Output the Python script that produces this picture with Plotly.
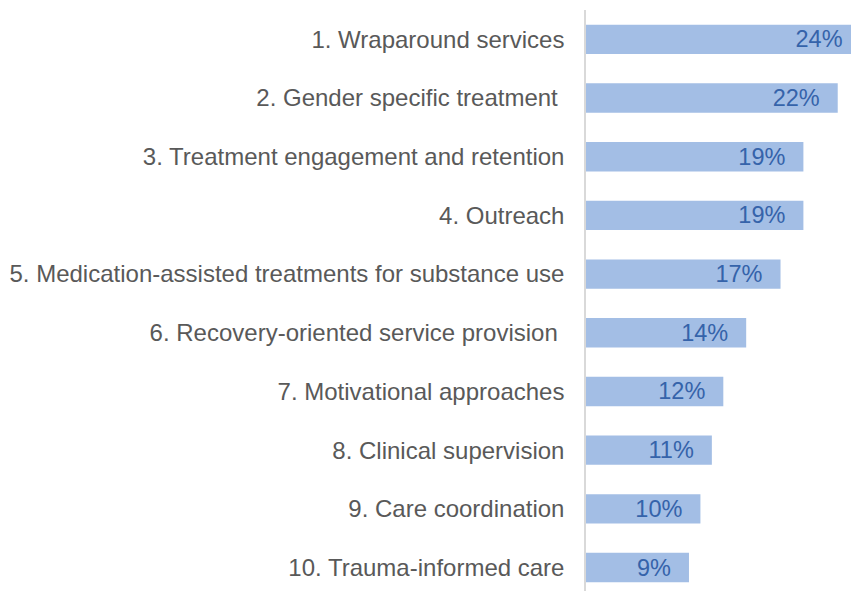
import plotly.graph_objs as go

# Chart data
categories = [
    '1. Wraparound services',
    '2. Gender specific treatment\u00a0',
    '3. Treatment engagement and retention',
    '4. Outreach',
    '5. Medication-assisted treatments for substance use',
    '6. Recovery-oriented service provision\u00a0',
    '7. Motivational approaches',
    '8. Clinical supervision',
    '9. Care coordination',
    '10. Trauma-informed care',
]
values = [24, 22, 19, 19, 17, 14, 12, 11, 10, 9]
value_labels = ['{0}%'.format(v) + '\u00a0\u00a0\u200a' for v in values]

# Colors
bar_color = '#A3BEE5'
value_color = '#3563AA'
label_color = '#595959'
axis_color = '#D9D9D9'

bars = go.Bar(
    x=values,
    y=categories,
    orientation='h',
    marker=dict(color=bar_color, line=dict(width=0)),
    text=value_labels,
    textposition='inside',
    insidetextanchor='end',
    constraintext='none',
    textfont=dict(family='Liberation Sans, Arial, sans-serif', size=23.5, color=value_color),
    hoverinfo='skip',
)

layout = go.Layout(
    width=851,
    height=591,
    margin=dict(l=586, r=0, t=10, b=0),
    paper_bgcolor='white',
    plot_bgcolor='white',
    bargap=0.5,
    showlegend=False,
    font=dict(family='Liberation Sans, Arial, sans-serif', size=24, color=label_color),
    xaxis=dict(range=[0, 23.16], showgrid=False, zeroline=False, showticklabels=False, showline=False),
    yaxis=dict(
        type='category',
        range=[9.4, -0.5],
        showgrid=False,
        zeroline=False,
        showline=True,
        linecolor=axis_color,
        linewidth=1.5,
        ticks='outside',
        ticklen=15,
        tickcolor='rgba(0,0,0,0)',
        tickfont=dict(size=24, color=label_color),
    ),
)

fig = go.Figure(data=[bars], layout=layout)
# drop the page's default body margin so the figure sits at the window corner
fig.write_html(
    "out.html",
    config={'displayModeBar': False},
    post_script="document.body.style.margin='0';document.body.style.overflow='hidden';",
)
